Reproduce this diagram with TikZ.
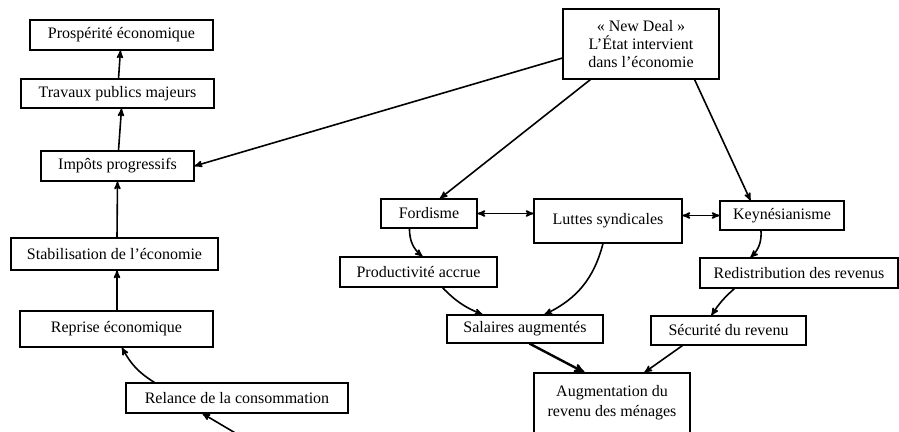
\documentclass[tikz,border=0pt]{standalone}
\usepackage{fontspec}
\setmainfont{Liberation Serif}
\usetikzlibrary{arrows}

\begin{document}
\begin{tikzpicture}[x=1pt,y=-1pt,>=stealth',
                    main node/.style={rectangle,draw,inner sep=0pt,line width=1.1pt,
                      font=\fontsize{16}{18}\selectfont,align=center}]
  \useasboundingbox (0,0) rectangle (899,431);
  \clip (0,0) rectangle (899,431);
  % left column
  \node[main node,minimum width=183pt,minimum height=30pt] (1) at (121.5,35) {Prospérité économique};
  \node[main node,minimum width=193pt,minimum height=29pt] (2) at (117.5,93.5) {Travaux publics majeurs};
  \node[main node,minimum width=153pt,minimum height=30pt] (3) at (117.5,166) {Impôts progressifs};
  \node[main node,minimum width=207pt,minimum height=32pt] (4) at (114.5,254) {Stabilisation de l’économie};
  \node[main node,minimum width=193pt,minimum height=36pt] (5) at (116.5,329) {Reprise économique};
  \node[main node,minimum width=222pt,minimum height=30pt] (6) at (237,398) {Relance de la consommation};
  \coordinate (0) at (237,434);
  % right part
  \node[main node,minimum width=156pt,minimum height=70pt] (7) at (641,44) {«~New Deal~»\\L’État intervient\\dans l’économie};
  \node[main node,minimum width=96pt,minimum height=29pt] (8) at (429,213.5) {Fordisme};
  \node[main node,minimum width=148pt,minimum height=44pt] (9) at (608,221) {Luttes syndicales};
  \node[main node,minimum width=124pt,minimum height=29pt] (10) at (782,215.5) {Keynésianisme};
  \node[main node,minimum width=157pt,minimum height=30pt] (11) at (418.5,272) {Productivité accrue};
  \node[main node,minimum width=198pt,minimum height=30pt] (12) at (799,273) {Redistribution des revenus};
  \node[main node,minimum width=156pt,minimum height=28pt] (13) at (525,329) {Salaires augmentés};
  \node[main node,minimum width=155pt,minimum height=29pt] (14) at (728.5,330.5) {Sécurité du revenu};
  \node[main node,minimum width=156pt,minimum height=60pt,
        font=\fontsize{16}{20}\selectfont] (15) at (612,403) {Augmentation du\\revenu des ménages};
  \path[->,line width=1.6pt]
    (2) edge (1)
    ([xshift=1pt]3.north) edge ([xshift=4pt]2.south)
    ([xshift=2.5pt]4.north) edge (3.south)
    ([xshift=.5pt]5.north) edge ([xshift=2.5pt]4.south)
    ([xshift=29pt]6.north west) edge [bend left=15] ([xshift=5.5pt]5.south)
    (0) edge ([xshift=77pt]6.south west)
    ([yshift=-14pt]7.west) edge (3.east)
    ([xshift=28pt]7.south west) edge ([xshift=11pt]8.north)
    ([xshift=-25pt]7.south east) edge ([xshift=31pt]10.north west)
    (8.east) edge [<->] (8.east -| 9.west)
    (9.east |- 10.west) edge [<->] (10.west)
    ([xshift=29pt]8.south west) edge [bend right=25] ([xshift=83pt]11.north west)
    ([xshift=103pt]11.south west) edge [bend right=12] ([xshift=36pt]13.north west)
    ([xshift=-5pt]9.south) edge [bend left=25] ([xshift=98pt]13.north west)
    ([xshift=-21pt]10.south) edge [bend left=25] ([xshift=51pt]12.north west)
    ([xshift=35pt]12.south west) edge [bend right=8] ([xshift=61pt]14.north west)
    ([xshift=83pt]13.south west) edge [line width=2.4pt] ([xshift=51pt]15.north west)
    ([xshift=32pt]14.south west) edge ([xshift=111pt]15.north west);
\end{tikzpicture}
\end{document}
